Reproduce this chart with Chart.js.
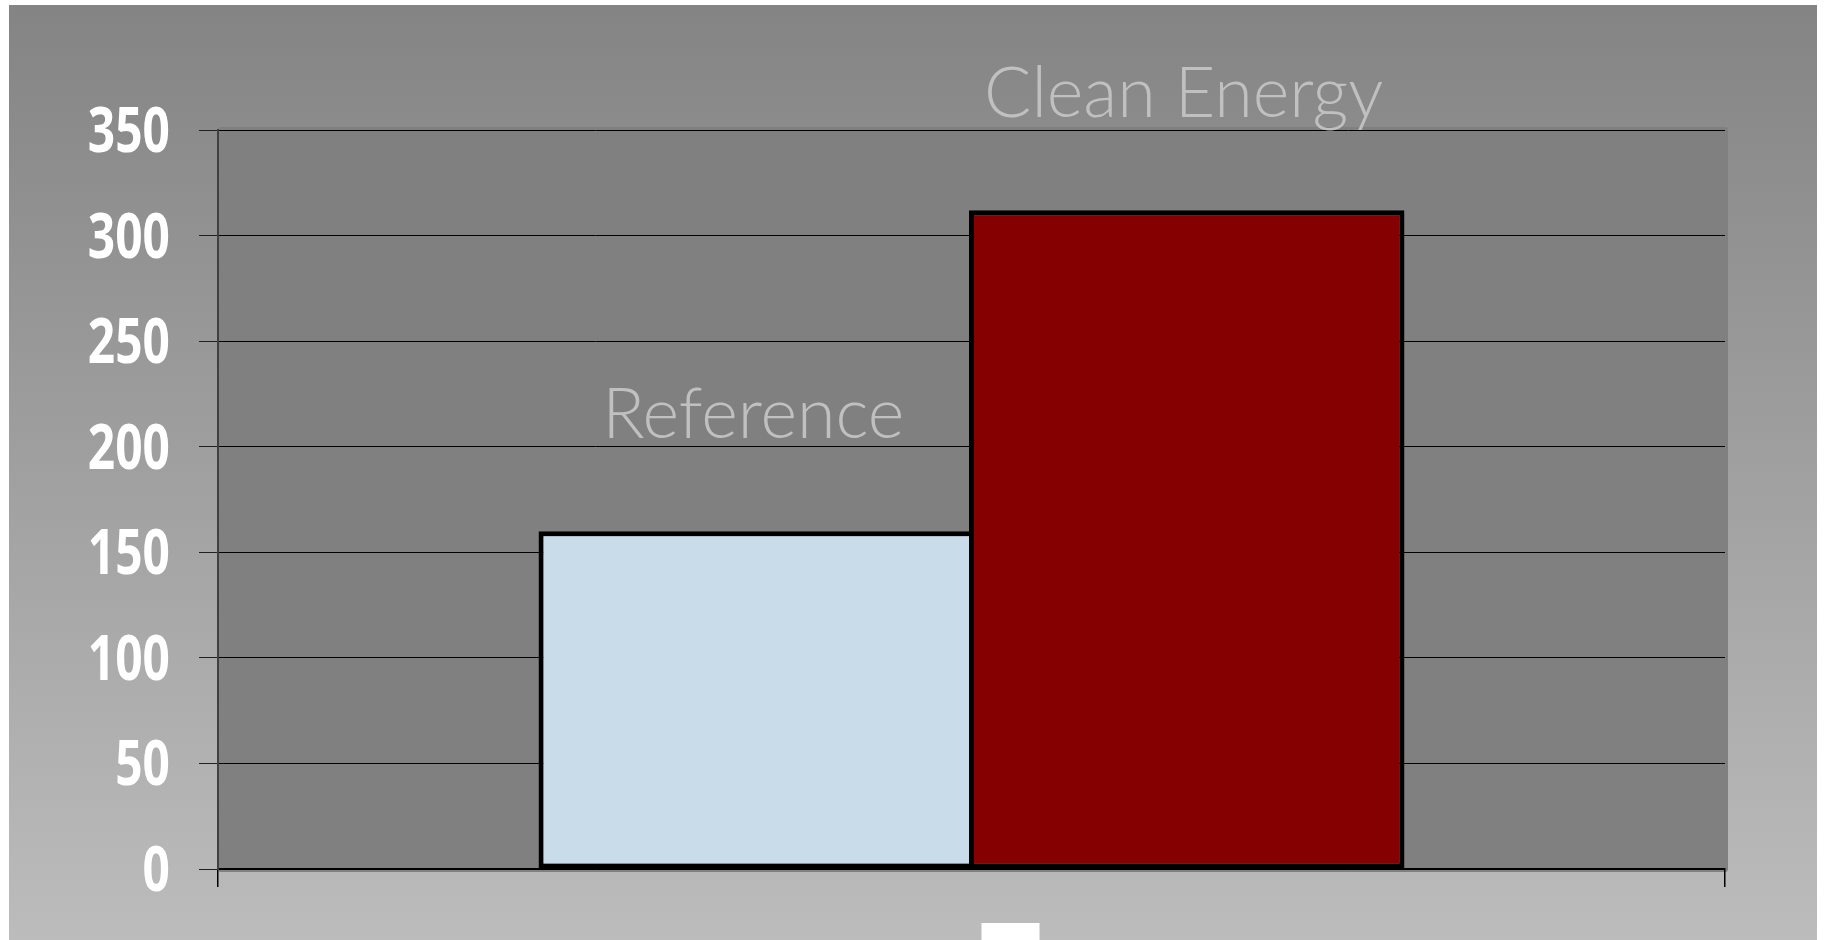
<!DOCTYPE html>
<html>
<head>
<meta charset="utf-8">
<script src="https://cdn.jsdelivr.net/npm/chart.js@4"></script>
<style>
  html, body { margin: 0; padding: 0; background: #ffffff; }
  #wrap { width: 1824px; height: 940px; }
</style>
</head>
<body>
<div id="wrap"><canvas id="c" width="1824" height="940"></canvas></div>
<script>
const categories = [''];
const seriesNames = ['Reference', 'Clean Energy'];
const referenceValues = [160];
const cleanEnergyValues = [312];
const yTicks = [0, 50, 100, 150, 200, 250, 300, 350];
const seriesColors = ['#C9DCE9', '#850000'];

const bgPlugin = {
  id: 'bg',
  beforeDraw(chart) {
    const ctx = chart.ctx;
    const a = chart.chartArea;
    ctx.save();
    ctx.fillStyle = '#ffffff';
    ctx.fillRect(0, 0, chart.width, chart.height);
    const g = ctx.createLinearGradient(0, 5, 0, chart.height);
    g.addColorStop(0, '#848484');
    g.addColorStop(1, '#bcbcbc');
    ctx.fillStyle = g;
    ctx.fillRect(9, 5, 1817 - 9, chart.height - 5);
    ctx.fillStyle = '#808080';
    ctx.beginPath();
    ctx.roundRect(a.left, a.top - 3, a.right - a.left + 3, a.bottom - a.top + 6, 3);
    ctx.fill();
    ctx.restore();
  },
  afterDatasetsDraw(chart) {
    const ctx = chart.ctx;
    ctx.save();
    ctx.font = '300 70px Lato, "Open Sans", sans-serif';
    ctx.fillStyle = '#C0C0C0';
    ctx.textAlign = 'center';
    ctx.textBaseline = 'alphabetic';
    chart.data.datasets.forEach((ds, i) => {
      const meta = chart.getDatasetMeta(i);
      meta.data.forEach(el => {
        ctx.fillText(ds.label, el.x - 3, el.y - 93);
      });
    });
    ctx.restore();
  },
  afterDraw(chart) {
    const ctx = chart.ctx;
    const a = chart.chartArea;
    // condensed y tick labels, positioned by the y scale
    const ys = chart.scales.y;
    ctx.save();
    ctx.fillStyle = '#ffffff';
    ctx.font = 'bold 63px "Open Sans", "Liberation Sans", sans-serif';
    ctx.textAlign = 'right';
    ctx.textBaseline = 'middle';
    const sx = 0.76;
    const rightX = ys.right - ys.options.grid.tickLength - ys.options.ticks.padding;
    ys.ticks.forEach(t => {
      const y = ys.getPixelForValue(t.value) + 4;
      ctx.save();
      ctx.translate(rightX, y);
      ctx.scale(sx, 1);
      ctx.fillText(String(t.value), 0, 0);
      ctx.restore();
    });
    ctx.restore();
    // small white box below the axis
    const cx = (a.left + a.right) / 2 + 39;
    ctx.save();
    ctx.fillStyle = '#ffffff';
    ctx.fillRect(cx - 29, 923, 58, chart.height - 923);
    ctx.restore();
  }
};

new Chart(document.getElementById('c'), {
  type: 'bar',
  data: {
    labels: categories,
    datasets: [
      { label: seriesNames[0], data: referenceValues, backgroundColor: seriesColors[0], borderColor: '#000000', borderWidth: 5, borderSkipped: false },
      { label: seriesNames[1], data: cleanEnergyValues, backgroundColor: seriesColors[1], borderColor: '#000000', borderWidth: 5, borderSkipped: false }
    ]
  },
  options: {
    responsive: false,
    devicePixelRatio: 1,
    animation: false,
    layout: { padding: { top: 130, right: 99, bottom: 0, left: 0 } },
    plugins: { legend: { display: false }, tooltip: { enabled: false }, title: { display: false } },
    datasets: { bar: { barPercentage: 1.0116, categoryPercentage: 0.5713 } },
    scales: {
      x: {
        type: 'category',
        offset: true,
        grid: { display: true, drawOnChartArea: false, drawTicks: true, offset: true, tickLength: 18, color: '#000000', lineWidth: 1.5 },
        border: { display: true, color: '#000000', width: 1.5 },
        ticks: { display: false },
        afterFit(scale) { scale.height = 71; }
      },
      y: {
        min: 0,
        max: 350,
        afterBuildTicks(scale) { scale.ticks = yTicks.map(v => ({ value: v })); },
        ticks: { display: false, padding: 29 },
        grid: { color: '#000000', lineWidth: 1, tickLength: 19, tickColor: '#202020', drawTicks: true },
        border: { display: true, color: '#404040', width: 2 },
        afterFit(scale) { scale.width = 218; }
      }
    }
  },
  plugins: [bgPlugin]
});
</script>
</body>
</html>
